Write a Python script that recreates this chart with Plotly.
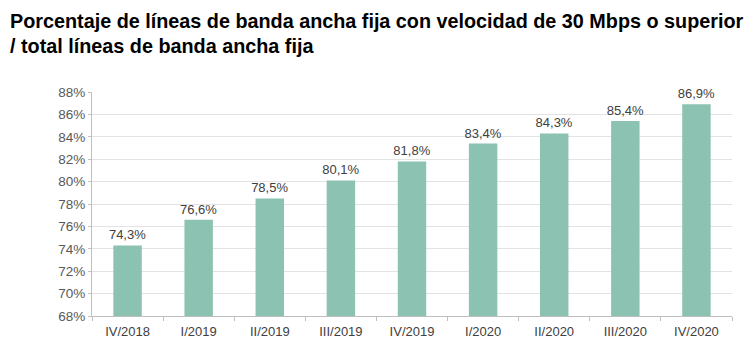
import plotly.graph_objects as go

categories = ["IV/2018", "I/2019", "II/2019", "III/2019", "IV/2019", "I/2020", "II/2020", "III/2020", "IV/2020"]
values = [74.3, 76.6, 78.5, 80.1, 81.8, 83.4, 84.3, 85.4, 86.9]
y_ticks = [68, 70, 72, 74, 76, 78, 80, 82, 84, 86, 88]
title_lines = ["Porcentaje de líneas de banda ancha fija con velocidad de 30 Mbps o superior",
               "/ total líneas de banda ancha fija"]

W, H = 756, 351
ML, MR, MT, MB = 92, 24, 92, 33
PW, PH = W - ML - MR, H - MT - MB

fig = go.Figure(go.Bar(
    x=categories, y=values,
    marker=dict(color="#8CC2B1", line=dict(width=0)),
    width=0.4,
    texttemplate="%{y:.1f}%",
    textposition="outside",
    constraintext="none",
    textfont=dict(family="Liberation Sans, Arial", size=13, color="#404040"),
    cliponaxis=False,
))

title_font = dict(family="Liberation Sans, Arial", size=19.8, color="black", weight="bold")
centers_px = [20, 46]
for line, cy in zip(title_lines, centers_px):
    fig.add_annotation(
        text=line, showarrow=False,
        xref="paper", yref="paper",
        x=(8 - ML) / PW, xanchor="left",
        y=1 + (MT - cy) / PH, yanchor="middle",
        font=title_font,
    )

fig.update_layout(
    width=W, height=H,
    margin=dict(l=ML, r=MR, t=MT, b=MB),
    paper_bgcolor="white", plot_bgcolor="white",
    separators=",.",
    showlegend=False,
    xaxis=dict(
        type="category",
        showline=True, linecolor="#BFBFBF", linewidth=1,
        ticks="outside", tickson="boundaries", ticklen=4, tickcolor="#BFBFBF",
        ticklabelstandoff=3,
        tickfont=dict(family="Liberation Sans, Arial", size=13, color="#404040"),
        showgrid=False,
    ),
    yaxis=dict(
        range=[68, 88],
        tickvals=y_ticks,
        ticktext=[f"{v}%" for v in y_ticks],
        showline=True, linecolor="#BFBFBF", linewidth=1,
        ticks="outside", ticklen=3, tickcolor="#BFBFBF",
        showgrid=True, gridcolor="#E3E3E3", gridwidth=1,
        zeroline=False,
        tickfont=dict(family="Liberation Sans, Arial", size=13.5, color="#595959"),
    ),
    bargap=0.6,
)

fig.write_html("out.html")
